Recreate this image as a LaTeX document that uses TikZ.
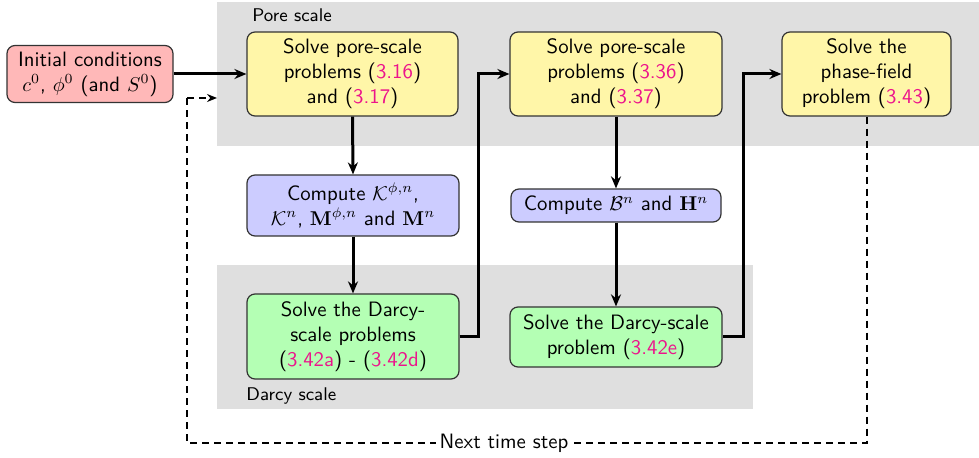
\documentclass[tikz,border=0pt]{standalone}
\usetikzlibrary{arrows.meta}
\definecolor{refc}{RGB}{236,20,140}
\definecolor{boxred}{RGB}{255,184,184}
\definecolor{boxyel}{RGB}{255,246,168}
\definecolor{boxblue}{RGB}{204,204,255}
\definecolor{boxgreen}{RGB}{180,255,180}
\definecolor{scalegray}{RGB}{223,223,223}
\newcommand{\rf}[1]{\textcolor{refc}{#1}}
\tikzset{
  box/.style={draw=black!80, line width=0.6pt, rounded corners=4pt, align=center,
    font=\sffamily\fontsize{10.4}{12.5}\selectfont, inner sep=2pt},
  flow/.style={line width=1.5pt, -{Stealth[length=6pt,width=5pt]}},
  loopline/.style={line width=1pt, dash pattern=on 3.5pt off 2.5pt},
  lbl/.style={font=\sffamily\fontsize{9.2}{11}\selectfont, inner sep=0pt, anchor=west}
}
\begin{document}
\begin{tikzpicture}[x=0.5pt,y=-0.5pt]
\useasboundingbox (0,0) rectangle (979,458);
% scale backgrounds
\fill[scalegray] (217,2) rectangle (979,146);
\fill[scalegray] (217,265) rectangle (753,409);
\node[lbl] (porelbl) at (252,15) {Pore scale};
\node[lbl] (darcylbl) at (246,396) {Darcy scale};
% nodes
\node[box, fill=boxred, minimum width=83pt, minimum height=28.5pt] (init) at (90,74)
  {Initial conditions\\$c^0$, $\phi^0$ (and $S^0$)};
\node[box, fill=boxyel, minimum width=105.5pt, minimum height=42pt] (pore1) at (352.5,74)
  {Solve pore-scale\\problems (\rf{3.16})\\and (\rf{3.17})};
\node[box, fill=boxyel, minimum width=106pt, minimum height=42pt] (pore2) at (616,74)
  {Solve pore-scale\\problems (\rf{3.36})\\and (\rf{3.37})};
\node[box, fill=boxyel, minimum width=84.5pt, minimum height=42pt] (phase) at (866.5,74)
  {Solve the\\phase-field\\problem (\rf{3.43})};
\node[box, fill=boxblue, minimum width=106pt, minimum height=30.5pt] (comp1) at (353,205.5)
  {Compute $\mathcal{K}^{\phi,n}$,\\$\mathcal{K}^{n}$, $\mathbf{M}^{\phi,n}$ and $\mathbf{M}^{n}$};
\node[box, fill=boxblue, minimum width=105pt, minimum height=16.5pt] (comp2) at (616,205.5)
  {Compute $\mathcal{B}^{n}$ and $\mathbf{H}^{n}$};
\node[box, fill=boxgreen, minimum width=106pt, minimum height=42.5pt] (darcy1) at (353,336.5)
  {Solve the Darcy-\\scale problems\\(\rf{3.42a}) - (\rf{3.42d})};
\node[box, fill=boxgreen, minimum width=106pt, minimum height=30pt] (darcy2) at (616,337)
  {Solve the Darcy-scale\\problem (\rf{3.42e})};
% connectors
\draw[flow] (init.east) -- (pore1.west);
\draw[flow] (pore1.south) -- (comp1.north);
\draw[flow] (comp1.south) -- (darcy1.north);
\coordinate (j1) at (478,336.5);
\draw[flow] (darcy1.east) -- (j1) |- (pore2.west);
\draw[flow] (pore2.south) -- (comp2.north);
\draw[flow] (comp2.south) -- (darcy2.north);
\coordinate (j2) at (743,337);
\draw[flow] (darcy2.east) -- (j2) |- (phase.west);
% loop back
\coordinate (l1) at (866.5,443);
\coordinate (l2) at (187,443);
\coordinate (l3) at (187,98);
\coordinate (l4) at (217,98);
\draw[loopline] (phase.south) -- (l1) -- (l2) -- (l3);
\draw[loopline, -{Stealth[length=5pt,width=4pt]}] (l3) -- (l4);
\node[font=\sffamily\fontsize{10.4}{12.5}\selectfont, fill=white, inner sep=2pt] (next) at (504,443) {Next time step};
\end{tikzpicture}
\end{document}
